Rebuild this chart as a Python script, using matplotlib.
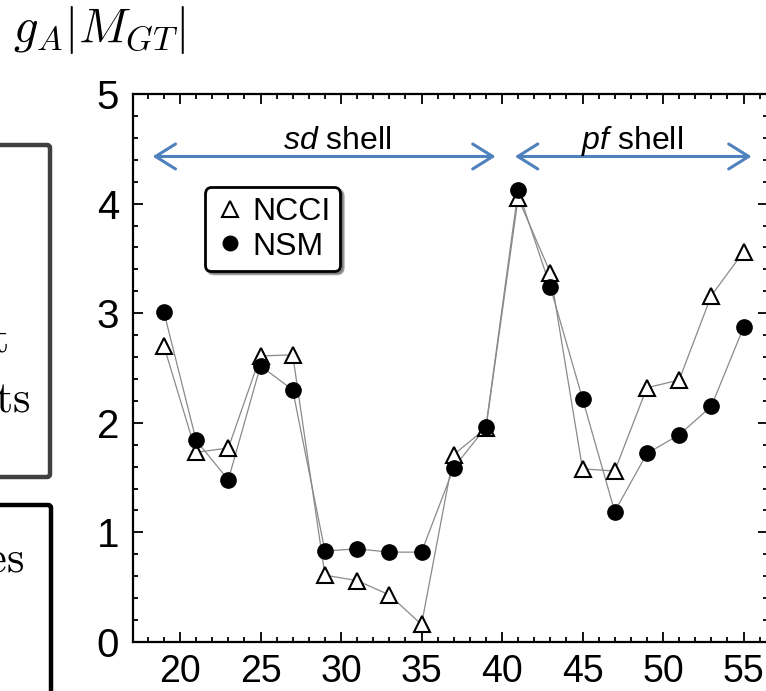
import matplotlib
matplotlib.use('Agg')
import matplotlib.pyplot as plt
from matplotlib.patches import FancyBboxPatch
from matplotlib.ticker import MultipleLocator
import numpy as np

plt.rcParams['font.family'] = ['Liberation Sans', 'DejaVu Sans']
plt.rcParams['mathtext.fontset'] = 'custom'
plt.rcParams['mathtext.rm'] = 'Liberation Sans'
plt.rcParams['mathtext.it'] = 'Liberation Sans:italic'

# mass number A (odd nuclei) and g_A|M_GT| values
mass_a = [19, 21, 23, 25, 27, 29, 31, 33, 35, 37, 39, 41, 43, 45, 47, 49, 51, 53, 55]
ncci = [2.70, 1.73, 1.77, 2.61, 2.62, 0.61, 0.56, 0.43, 0.16, 1.71, 1.95, 4.05, 3.37,
        1.58, 1.56, 2.32, 2.39, 3.16, 3.56]
nsm = [3.01, 1.84, 1.48, 2.52, 2.30, 0.83, 0.85, 0.82, 0.82, 1.59, 1.96, 4.12, 3.24,
       2.22, 1.19, 1.72, 1.89, 2.15, 2.87]
shells = ['sd', 'pf']
shell_ranges = [(18.3, 39.6), (40.8, 55.5)]
shell_label_x = [29.75, 48.1]

W, H = 766, 691
fig = plt.figure(figsize=(W / 100, H / 100), dpi=100)

# axes placed in pixel terms; right spine falls just outside the picture
x0, x1 = 17.08, 56.5
px_per_a = 16.1
ax = fig.add_axes([133 / W, 49 / H, (x1 - x0) * px_per_a / W, 548 / H])

ax.plot(mass_a, ncci, color='#8a8a8a', lw=0.9, zorder=2)
ax.plot(mass_a, nsm, color='#8a8a8a', lw=0.9, zorder=2)
ax.plot(mass_a, ncci, '^', ms=11.5, mfc='white', mec='black', mew=1.5,
        ls='none', label='NCCI', zorder=3)
ax.plot(mass_a, nsm, 'o', ms=11, mfc='black', mec='black',
        ls='none', label='NSM', zorder=4)

ax.set_xlim(x0, x1)
ax.set_ylim(0, 5)
ax.xaxis.set_major_locator(MultipleLocator(5))
ax.xaxis.set_minor_locator(MultipleLocator(1))
ax.yaxis.set_major_locator(MultipleLocator(1))
ax.yaxis.set_minor_locator(MultipleLocator(0.2))
ax.tick_params(which='both', direction='in', top=True, right=True, width=1.3)
ax.tick_params(which='major', length=7, pad=9)
ax.tick_params(axis='x', which='major', labelsize=27)
ax.tick_params(axis='y', which='major', labelsize=29, pad=10)
ax.tick_params(which='minor', length=3.5)
for sp in ax.spines.values():
    sp.set_linewidth(1.6)

for name, (a0, a1), lx in zip(shells, shell_ranges, shell_label_x):
    ax.annotate('', xy=(a0, 4.43), xytext=(a1, 4.43),
                arrowprops=dict(arrowstyle='<->,head_length=0.4,head_width=0.25',
                                color='#4F81BD', lw=2.2, mutation_scale=36,
                                shrinkA=0, shrinkB=0))
    ax.text(lx, 4.50, r'$\mathit{' + name + r'}$ shell', ha='center',
            va='baseline', fontsize=23, math_fontfamily='custom')

leg = ax.legend(loc='upper left', bbox_to_anchor=(0.113, 0.830), borderaxespad=0,
                fontsize=23, fancybox=True, shadow=True, framealpha=1,
                handletextpad=0.2, handlelength=1.0, borderpad=0.3,
                labelspacing=0.15, markerscale=0.95)
leg.get_frame().set_edgecolor('black')
leg.get_frame().set_linewidth(2)

# y-axis quantity written above the plot
fig.text(13 / W, 1 - 42 / H, r'$g_A|M_{GT}|$', fontsize=35, va='baseline',
         math_fontfamily='cm')

# slide boxes cut off at the left edge
box1 = FancyBboxPatch((-120 / W, 1 - 477 / H), 170 / W, 332 / H,
                      boxstyle='round,pad=0,rounding_size=0.004',
                      transform=fig.transFigure, fill=False,
                      edgecolor='#404040', lw=3.2)
box2 = FancyBboxPatch((-120 / W, -0.2), 171 / W, 0.2 + 186 / H,
                      boxstyle='round,pad=0,rounding_size=0.004',
                      transform=fig.transFigure, fill=False,
                      edgecolor='black', lw=3.2)
fig.add_artist(box1)
fig.add_artist(box2)
fig.text(9 / W, 1 - 352 / H, r'$\mathrm{limit}$', ha='right', va='baseline',
         fontsize=32, math_fontfamily='cm')
fig.text(30 / W, 1 - 412 / H, r'$\mathrm{elements}$', ha='right', va='baseline',
         fontsize=32, math_fontfamily='cm')
fig.text(24 / W, 1 - 571 / H, r'$\mathrm{values}$', ha='right', va='baseline',
         fontsize=32, math_fontfamily='cm')

fig.savefig('out.png', dpi=100)
